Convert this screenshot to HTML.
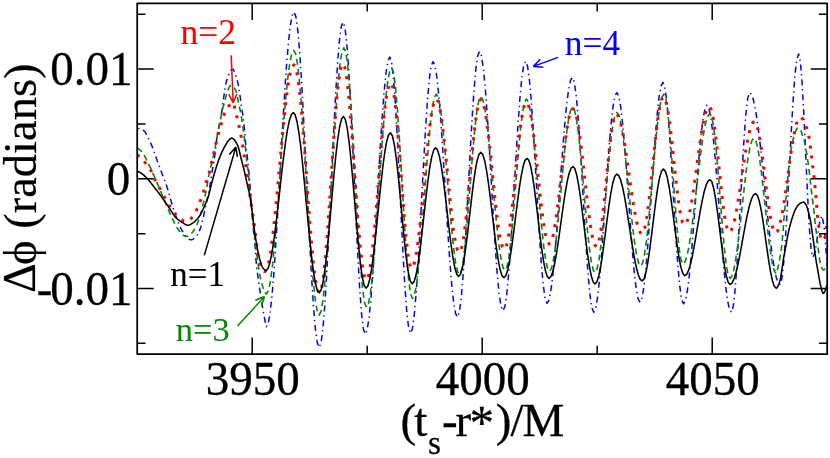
<!DOCTYPE html>
<html><head><meta charset="utf-8"><title>plot</title>
<style>
html,body{margin:0;padding:0;background:#fff;}
body{width:830px;height:458px;overflow:hidden;}
svg{display:block;will-change:transform;}
text{font-family:"Liberation Serif",serif;}
</style></head><body>
<svg width="830" height="458" viewBox="0 0 830 458">
<rect width="830" height="458" fill="#fff"/>
<defs><clipPath id="c"><rect x="137.20" y="3.35" width="690.00" height="350.65"/></clipPath></defs>

<g clip-path="url(#c)" fill="none" stroke-linejoin="round">
<path d="M137.20 128.20 L137.50 128.25 L138.00 128.35 L138.50 128.46 L139.00 128.59 L139.50 128.73 L140.00 128.89 L140.50 129.07 L141.00 129.26 L141.50 129.47 L142.00 129.70 L142.50 129.95 L143.00 130.21 L143.50 130.50 L144.00 130.86 L144.50 131.34 L145.00 131.93 L145.50 132.62 L146.00 133.41 L146.50 134.27 L147.00 135.20 L147.50 136.18 L148.00 137.22 L148.50 138.29 L149.00 139.39 L149.50 140.51 L150.00 141.64 L150.50 142.76 L151.00 143.86 L151.50 144.97 L152.00 146.13 L152.50 147.37 L153.00 148.66 L153.50 150.01 L154.00 151.39 L154.50 152.81 L155.00 154.26 L155.50 155.72 L156.00 157.19 L156.50 158.67 L157.00 160.13 L157.50 161.59 L158.00 163.01 L158.50 164.41 L159.00 165.77 L159.50 167.09 L160.00 168.39 L160.50 169.68 L161.00 170.95 L161.50 172.21 L162.00 173.47 L162.50 174.73 L163.00 175.99 L163.50 177.27 L164.00 178.56 L164.50 179.87 L165.00 181.20 L165.50 182.57 L166.00 183.97 L166.50 185.41 L167.00 186.90 L167.50 188.48 L168.00 190.12 L168.50 191.81 L169.00 193.55 L169.50 195.32 L170.00 197.11 L170.50 198.91 L171.00 200.71 L171.50 202.49 L172.00 204.25 L172.50 205.97 L173.00 207.64 L173.50 209.25 L174.00 210.79 L174.50 212.24 L175.00 213.62 L175.50 214.99 L176.00 216.36 L176.50 217.72 L177.00 219.07 L177.50 220.39 L178.00 221.69 L178.50 222.96 L179.00 224.18 L179.50 225.37 L180.00 226.51 L180.50 227.59 L181.00 228.62 L181.50 229.58 L182.00 230.46 L182.50 231.27 L183.00 232.00 L183.50 232.69 L184.00 233.38 L184.50 234.07 L185.00 234.76 L185.50 235.43 L186.00 236.07 L186.50 236.69 L187.00 237.27 L187.50 237.81 L188.00 238.29 L188.50 238.73 L189.00 239.09 L189.50 239.39 L190.00 239.61 L190.50 239.75 L191.00 239.80 L191.50 239.76 L192.00 239.63 L192.50 239.43 L193.00 239.15 L193.50 238.82 L194.00 238.44 L194.50 238.01 L195.00 237.55 L195.50 237.05 L196.00 236.54 L196.50 236.01 L197.00 235.42 L197.50 234.68 L198.00 233.80 L198.50 232.80 L199.00 231.69 L199.50 230.50 L200.00 229.24 L200.50 227.93 L201.00 226.44 L201.50 224.74 L202.00 222.88 L202.50 220.89 L203.00 218.82 L203.50 216.60 L204.00 214.12 L204.50 211.52 L205.00 208.95 L205.50 206.57 L206.00 204.33 L206.50 202.17 L207.00 200.01 L207.50 197.81 L208.00 195.50 L208.50 193.11 L209.00 190.66 L209.50 188.11 L210.00 185.42 L210.50 182.53 L211.00 179.34 L211.50 175.99 L212.00 172.66 L212.50 169.49 L213.00 166.57 L213.50 163.76 L214.00 160.87 L214.50 157.69 L215.00 153.92 L215.50 149.51 L216.00 144.94 L216.50 140.69 L217.00 137.20 L217.50 134.23 L218.00 131.52 L218.50 128.92 L219.00 126.38 L219.50 124.00 L220.00 121.63 L220.50 119.13 L221.00 116.42 L221.50 113.56 L222.00 110.50 L222.50 107.09 L223.00 103.19 L223.50 99.18 L224.00 95.50 L224.50 92.04 L225.00 88.59 L225.50 85.43 L226.00 82.85 L226.50 81.05 L227.00 79.47 L227.50 77.95 L228.00 76.50 L228.50 75.13 L229.00 73.87 L229.50 72.73 L230.00 71.72 L230.50 70.85 L231.00 70.14 L231.50 69.60 L232.00 69.25 L232.50 69.10 L233.00 69.25 L233.50 69.82 L234.00 70.73 L234.50 71.91 L235.00 73.27 L235.50 74.74 L236.00 76.23 L236.50 77.69 L237.00 79.34 L237.50 81.24 L238.00 83.39 L238.50 85.82 L239.00 88.73 L239.50 92.05 L240.00 95.60 L240.50 99.24 L241.00 103.33 L241.50 107.31 L242.00 110.38 L242.50 112.99 L243.00 116.00 L243.50 119.90 L244.00 124.50 L244.50 129.71 L245.00 136.12 L245.50 142.40 L246.00 147.16 L246.50 150.97 L247.00 154.61 L247.50 158.72 L248.00 163.26 L248.50 168.24 L249.00 173.58 L249.50 179.26 L250.00 185.26 L250.50 191.86 L251.00 198.72 L251.50 205.72 L252.00 212.76 L252.50 219.52 L253.00 225.70 L253.50 230.94 L254.00 235.11 L254.50 239.47 L255.00 245.53 L255.50 252.98 L256.00 260.01 L256.50 265.27 L257.00 269.69 L257.50 273.63 L258.00 277.28 L258.50 280.81 L259.00 284.31 L259.50 287.76 L260.00 291.15 L260.50 294.49 L261.00 297.76 L261.50 300.95 L262.00 304.06 L262.50 307.08 L263.00 310.00 L263.50 312.82 L264.00 315.52 L264.50 318.10 L265.00 320.56 L265.50 322.88 L266.00 325.06 L266.40 326.70 L268.24 323.26 L270.08 313.10 L271.92 296.65 L273.76 274.64 L275.60 248.03 L277.44 217.97 L279.28 185.80 L281.12 152.90 L282.96 120.73 L284.80 90.67 L286.64 64.06 L288.48 42.05 L290.32 25.60 L292.16 15.44 L294.00 12.00 L295.94 16.87 L297.88 31.21 L299.82 54.19 L301.75 84.46 L303.69 120.27 L305.63 159.53 L307.57 199.97 L309.51 239.23 L311.45 275.04 L313.38 305.31 L315.32 328.29 L317.26 342.63 L319.20 347.50 L321.04 342.77 L322.88 328.86 L324.72 306.58 L326.55 277.22 L328.39 242.49 L330.23 204.41 L332.07 165.19 L333.91 127.11 L335.75 92.38 L337.58 63.02 L339.42 40.74 L341.26 26.83 L343.10 22.10 L344.94 27.42 L346.78 43.01 L348.62 67.81 L350.47 100.13 L352.31 137.76 L354.15 178.15 L355.99 218.54 L357.83 256.17 L359.68 288.49 L361.52 313.29 L363.36 328.88 L365.20 334.20 L367.09 330.17 L368.98 318.32 L370.88 299.34 L372.77 274.33 L374.66 244.75 L376.55 212.31 L378.45 178.89 L380.34 146.45 L382.23 116.87 L384.12 91.86 L386.02 72.88 L387.91 61.03 L389.80 57.00 L391.68 62.60 L393.56 78.94 L395.45 104.70 L397.33 137.79 L399.21 175.53 L401.09 214.87 L402.97 252.61 L404.85 285.70 L406.74 311.46 L408.62 327.80 L410.50 333.40 L412.38 328.77 L414.25 315.19 L416.12 293.60 L418.00 265.45 L419.88 232.67 L421.75 197.50 L423.62 162.33 L425.50 129.55 L427.38 101.40 L429.25 79.81 L431.12 66.23 L433.00 61.60 L434.88 65.31 L436.75 76.23 L438.63 93.73 L440.51 116.78 L442.38 144.05 L444.26 173.95 L446.14 204.75 L448.02 234.65 L449.89 261.92 L451.77 284.97 L453.65 302.47 L455.52 313.39 L457.40 317.10 L459.24 312.57 L461.08 299.31 L462.92 278.20 L464.77 250.70 L466.61 218.67 L468.45 184.30 L470.29 149.93 L472.13 117.90 L473.98 90.40 L475.82 69.29 L477.66 56.03 L479.50 51.50 L481.46 55.92 L483.42 68.87 L485.38 89.47 L487.33 116.32 L489.29 147.59 L491.25 181.15 L493.21 214.71 L495.17 245.98 L497.12 272.83 L499.08 293.43 L501.04 306.38 L503.00 310.80 L504.88 306.55 L506.77 294.08 L508.65 274.25 L510.53 248.40 L512.42 218.30 L514.30 186.00 L516.18 153.70 L518.07 123.60 L519.95 97.75 L521.83 77.92 L523.72 65.45 L525.60 61.20 L527.55 66.10 L529.49 80.42 L531.44 102.98 L533.38 131.96 L535.33 165.02 L537.27 199.48 L539.22 232.54 L541.16 261.52 L543.11 284.08 L545.05 298.40 L547.00 303.30 L548.95 300.02 L550.91 290.36 L552.86 274.89 L554.82 254.51 L556.77 230.40 L558.72 203.96 L560.68 176.74 L562.63 150.30 L564.58 126.19 L566.54 105.81 L568.49 90.34 L570.45 80.68 L572.40 77.40 L574.34 82.16 L576.27 96.04 L578.21 117.94 L580.15 146.06 L582.08 178.14 L584.02 211.56 L585.95 243.64 L587.89 271.76 L589.83 293.66 L591.76 307.54 L593.70 312.30 L595.62 308.56 L597.55 297.58 L599.48 280.11 L601.40 257.35 L603.33 230.84 L605.25 202.40 L607.17 173.96 L609.10 147.45 L611.02 124.69 L612.95 107.22 L614.88 96.24 L616.80 92.50 L618.73 96.07 L620.67 106.55 L622.60 123.22 L624.53 144.95 L626.47 170.25 L628.40 197.40 L630.33 224.55 L632.27 249.85 L634.20 271.58 L636.13 288.25 L638.07 298.73 L640.00 302.30 L641.91 298.55 L643.82 287.57 L645.73 270.10 L647.63 247.33 L649.54 220.81 L651.45 192.35 L653.36 163.89 L655.27 137.38 L657.17 114.60 L659.08 97.13 L660.99 86.15 L662.90 82.40 L664.77 86.88 L666.65 99.97 L668.52 120.61 L670.39 147.11 L672.26 177.35 L674.14 208.85 L676.01 239.09 L677.88 265.59 L679.75 286.23 L681.63 299.32 L683.50 303.80 L685.46 300.42 L687.42 290.50 L689.38 274.73 L691.33 254.17 L693.29 230.24 L695.25 204.55 L697.21 178.86 L699.17 154.93 L701.12 134.37 L703.08 118.60 L705.04 108.68 L707.00 105.30 L708.87 108.31 L710.74 117.16 L712.61 131.33 L714.48 150.01 L716.35 172.10 L718.22 196.32 L720.08 221.28 L721.95 245.50 L723.82 267.59 L725.69 286.27 L727.56 300.44 L729.43 309.29 L731.30 312.30 L733.13 306.92 L734.96 291.31 L736.79 267.00 L738.62 236.36 L740.45 202.40 L742.28 168.44 L744.11 137.80 L745.94 113.49 L747.77 97.88 L749.60 92.50 L751.50 94.34 L753.40 99.81 L755.30 108.68 L757.20 120.62 L759.10 135.17 L761.00 151.76 L762.90 169.77 L764.80 188.50 L766.70 207.23 L768.60 225.24 L770.50 241.83 L772.40 256.38 L774.30 268.32 L776.20 277.19 L778.10 282.66 L780.00 284.50 L781.86 278.86 L783.72 262.49 L785.58 236.99 L787.44 204.86 L789.30 169.25 L791.16 133.64 L793.02 101.51 L794.88 76.01 L796.74 59.64 L798.60 54.00 L800.39 61.73 L802.17 83.76 L803.96 116.72 L805.75 155.60 L807.54 194.48 L809.33 227.44 L811.11 249.47 L812.90 257.20 L814.72 253.25 L816.54 242.90 L818.36 230.10 L820.18 219.75 L822.00 215.80 L824.12 226.67 L826.25 252.90 L827.20 264.63" stroke="#0000ff" stroke-width="1.5" stroke-dasharray="6 3.75 1.4 3.75" stroke-dashoffset="8.9"/>
<path d="M137.20 148.00 L137.50 148.24 L138.00 148.61 L138.50 148.97 L139.00 149.32 L139.50 149.68 L140.00 150.05 L140.50 150.46 L141.00 150.90 L141.50 151.39 L142.00 151.95 L142.50 152.59 L143.00 153.30 L143.50 154.08 L144.00 154.92 L144.50 155.80 L145.00 156.73 L145.50 157.70 L146.00 158.69 L146.50 159.71 L147.00 160.75 L147.50 161.79 L148.00 162.83 L148.50 163.87 L149.00 164.89 L149.50 165.90 L150.00 166.93 L150.50 167.97 L151.00 169.04 L151.50 170.12 L152.00 171.22 L152.50 172.34 L153.00 173.47 L153.50 174.60 L154.00 175.75 L154.50 176.91 L155.00 178.07 L155.50 179.23 L156.00 180.39 L156.50 181.56 L157.00 182.72 L157.50 183.88 L158.00 185.03 L158.50 186.19 L159.00 187.36 L159.50 188.55 L160.00 189.74 L160.50 190.95 L161.00 192.16 L161.50 193.37 L162.00 194.59 L162.50 195.82 L163.00 197.04 L163.50 198.26 L164.00 199.48 L164.50 200.70 L165.00 201.91 L165.50 203.11 L166.00 204.30 L166.50 205.48 L167.00 206.65 L167.50 207.81 L168.00 208.95 L168.50 210.08 L169.00 211.19 L169.50 212.27 L170.00 213.34 L170.50 214.43 L171.00 215.53 L171.50 216.64 L172.00 217.74 L172.50 218.84 L173.00 219.94 L173.50 221.01 L174.00 222.06 L174.50 223.09 L175.00 224.08 L175.50 225.03 L176.00 225.94 L176.50 226.79 L177.00 227.59 L177.50 228.33 L178.00 229.00 L178.50 229.64 L179.00 230.29 L179.50 230.95 L180.00 231.60 L180.50 232.24 L181.00 232.86 L181.50 233.45 L182.00 234.02 L182.50 234.54 L183.00 235.02 L183.50 235.44 L184.00 235.80 L184.50 236.10 L185.00 236.32 L185.50 236.45 L186.00 236.50 L186.50 236.46 L187.00 236.35 L187.50 236.17 L188.00 235.93 L188.50 235.64 L189.00 235.32 L189.50 234.96 L190.00 234.58 L190.50 234.18 L191.00 233.78 L191.50 233.34 L192.00 232.81 L192.50 232.19 L193.00 231.49 L193.50 230.74 L194.00 229.95 L194.50 229.13 L195.00 228.27 L195.50 227.35 L196.00 226.37 L196.50 225.33 L197.00 224.24 L197.50 223.08 L198.00 221.86 L198.50 220.58 L199.00 219.23 L199.50 217.82 L200.00 216.25 L200.50 214.52 L201.00 212.67 L201.50 210.72 L202.00 208.70 L202.50 206.66 L203.00 204.61 L203.50 202.56 L204.00 200.48 L204.50 198.35 L205.00 196.15 L205.50 193.87 L206.00 191.49 L206.50 188.98 L207.00 186.18 L207.50 183.14 L208.00 180.07 L208.50 177.17 L209.00 174.62 L209.50 172.33 L210.00 170.19 L210.50 168.11 L211.00 166.00 L211.50 163.81 L212.00 161.57 L212.50 159.32 L213.00 157.06 L213.50 154.80 L214.00 152.61 L214.50 150.45 L215.00 148.19 L215.50 145.66 L216.00 142.65 L216.50 139.48 L217.00 136.60 L217.50 133.95 L218.00 131.41 L218.50 128.90 L219.00 126.40 L219.50 123.93 L220.00 121.50 L220.50 119.08 L221.00 116.64 L221.50 114.14 L222.00 111.70 L222.50 109.43 L223.00 107.44 L223.50 105.73 L224.00 104.15 L224.50 102.54 L225.00 100.74 L225.50 98.64 L226.00 96.42 L226.50 94.35 L227.00 92.67 L227.50 91.37 L228.00 90.09 L228.50 88.87 L229.00 87.76 L229.50 86.80 L230.00 86.06 L230.50 85.57 L231.00 85.40 L231.50 85.47 L232.00 85.66 L232.50 85.98 L233.00 86.41 L233.50 86.95 L234.00 87.58 L234.50 88.30 L235.00 89.09 L235.50 89.97 L236.00 90.90 L236.50 92.40 L237.00 94.71 L237.50 97.45 L238.00 100.26 L238.50 102.76 L239.00 105.01 L239.50 107.22 L240.00 109.51 L240.50 112.00 L241.00 114.76 L241.50 117.74 L242.00 120.89 L242.50 124.16 L243.00 127.59 L243.50 131.25 L244.00 135.24 L244.50 139.60 L245.00 144.16 L245.50 148.86 L246.00 153.85 L246.50 158.73 L247.00 163.00 L247.50 166.54 L248.00 170.06 L248.50 174.39 L249.00 180.45 L249.50 186.50 L250.00 191.25 L250.50 195.90 L251.00 200.76 L251.50 205.71 L252.00 210.72 L252.50 215.75 L253.00 220.77 L253.50 225.73 L254.00 230.59 L254.50 235.32 L255.00 239.88 L255.50 244.23 L256.00 248.35 L256.50 252.28 L257.00 256.04 L257.50 259.60 L258.00 262.96 L258.50 266.30 L259.00 269.61 L259.50 272.80 L260.00 275.75 L260.50 278.36 L261.00 280.53 L261.50 282.33 L262.00 284.08 L262.50 285.77 L263.00 287.38 L263.50 288.87 L264.00 290.23 L264.50 291.42 L265.00 292.42 L265.50 293.21 L266.00 293.75 L266.40 294.00 L268.36 290.94 L270.31 281.93 L272.27 267.42 L274.23 248.12 L276.19 225.02 L278.14 199.26 L280.10 172.15 L282.06 145.04 L284.01 119.28 L285.97 96.18 L287.93 76.88 L289.89 62.37 L291.84 53.36 L293.80 50.30 L295.75 54.15 L297.71 65.47 L299.66 83.61 L301.62 107.51 L303.57 135.78 L305.52 166.78 L307.48 198.72 L309.43 229.72 L311.38 257.99 L313.34 281.89 L315.29 300.03 L317.25 311.35 L319.20 315.20 L321.10 311.31 L323.00 299.88 L324.90 281.56 L326.80 257.43 L328.70 228.88 L330.60 197.57 L332.50 165.33 L334.40 134.02 L336.30 105.47 L338.20 81.34 L340.10 63.02 L342.00 51.59 L343.90 47.70 L345.78 52.12 L347.67 65.09 L349.55 85.72 L351.43 112.60 L353.32 143.91 L355.20 177.50 L357.08 211.09 L358.97 242.40 L360.85 269.28 L362.73 289.91 L364.62 302.88 L366.50 307.30 L368.43 303.82 L370.36 293.58 L372.29 277.18 L374.22 255.58 L376.15 230.01 L378.08 201.98 L380.02 173.12 L381.95 145.09 L383.88 119.52 L385.81 97.92 L387.74 81.52 L389.67 71.28 L391.60 67.80 L393.50 72.47 L395.40 86.11 L397.30 107.61 L399.20 135.23 L401.10 166.73 L403.00 199.57 L404.90 231.07 L406.80 258.69 L408.70 280.19 L410.60 293.83 L412.50 298.50 L414.33 295.53 L416.16 286.80 L417.99 272.81 L419.82 254.38 L421.65 232.57 L423.48 208.66 L425.32 184.04 L427.15 160.13 L428.98 138.32 L430.81 119.89 L432.64 105.90 L434.47 97.17 L436.30 94.20 L438.23 97.27 L440.15 106.28 L442.07 120.60 L444.00 139.27 L445.93 161.02 L447.85 184.35 L449.77 207.68 L451.70 229.42 L453.62 248.10 L455.55 262.42 L457.47 271.43 L459.40 274.50 L461.35 270.90 L463.29 260.39 L465.24 243.82 L467.18 222.53 L469.13 198.25 L471.07 172.95 L473.02 148.67 L474.96 127.38 L476.91 110.81 L478.85 100.30 L480.80 96.70 L482.66 99.23 L484.52 106.65 L486.38 118.55 L488.25 134.24 L490.11 152.78 L491.97 173.13 L493.83 194.07 L495.69 214.42 L497.55 232.96 L499.42 248.65 L501.28 260.55 L503.14 267.97 L505.00 270.50 L506.95 267.03 L508.89 256.89 L510.84 240.90 L512.78 220.37 L514.73 196.95 L516.67 172.55 L518.62 149.13 L520.56 128.60 L522.51 112.61 L524.45 102.47 L526.40 99.00 L528.32 101.94 L530.25 110.55 L532.17 124.25 L534.10 142.10 L536.02 162.89 L537.95 185.20 L539.88 207.51 L541.80 228.30 L543.73 246.15 L545.65 259.85 L547.58 268.46 L549.50 271.40 L551.42 268.60 L553.35 260.41 L555.27 247.37 L557.20 230.37 L559.12 210.59 L561.05 189.35 L562.98 168.11 L564.90 148.33 L566.83 131.33 L568.75 118.29 L570.68 110.10 L572.60 107.30 L574.47 110.12 L576.33 118.37 L578.20 131.51 L580.07 148.63 L581.93 168.56 L583.80 189.95 L585.67 211.34 L587.53 231.27 L589.40 248.39 L591.27 261.53 L593.13 269.78 L595.00 272.60 L596.98 269.36 L598.96 259.90 L600.95 244.99 L602.93 225.83 L604.91 203.99 L606.89 181.21 L608.87 159.37 L610.85 140.21 L612.84 125.30 L614.82 115.84 L616.80 112.60 L618.64 114.83 L620.48 121.39 L622.32 131.89 L624.15 145.73 L625.99 162.10 L627.83 180.05 L629.67 198.55 L631.51 216.50 L633.35 232.87 L635.18 246.71 L637.02 257.21 L638.86 263.77 L640.70 266.00 L642.62 263.07 L644.55 254.49 L646.48 240.84 L648.40 223.05 L650.33 202.33 L652.25 180.10 L654.17 157.87 L656.10 137.15 L658.02 119.36 L659.95 105.71 L661.88 97.13 L663.80 94.20 L665.71 98.36 L667.62 110.43 L669.53 129.24 L671.44 152.93 L673.35 179.20 L675.26 205.47 L677.17 229.16 L679.08 247.97 L680.99 260.04 L682.90 264.20 L684.84 262.31 L686.77 256.75 L688.71 247.79 L690.64 235.89 L692.58 221.63 L694.51 205.73 L696.45 189.00 L698.39 172.27 L700.32 156.37 L702.26 142.11 L704.19 130.21 L706.13 121.25 L708.06 115.69 L710.00 113.80 L711.82 117.13 L713.64 126.86 L715.45 142.20 L717.27 161.91 L719.09 184.39 L720.91 207.81 L722.73 230.29 L724.55 250.00 L726.36 265.34 L728.18 275.07 L730.00 278.40 L731.84 276.36 L733.68 270.37 L735.52 260.77 L737.35 248.12 L739.19 233.16 L741.03 216.75 L742.87 199.85 L744.71 183.44 L746.55 168.48 L748.38 155.83 L750.22 146.23 L752.06 140.24 L753.90 138.20 L755.77 140.51 L757.63 147.28 L759.50 158.04 L761.37 172.08 L763.23 188.42 L765.10 205.95 L766.97 223.48 L768.83 239.82 L770.70 253.86 L772.57 264.62 L774.43 271.39 L776.30 273.70 L776.80 272.16 L777.30 270.35 L777.80 268.31 L778.30 266.08 L778.80 263.66 L779.30 261.11 L779.80 258.44 L780.30 255.67 L780.80 252.57 L781.30 249.04 L781.80 245.00 L782.30 240.16 L782.80 234.64 L783.30 228.16 L783.80 220.84 L784.30 214.45 L784.80 209.57 L785.30 204.82 L785.80 199.96 L786.30 195.00 L786.80 189.67 L787.30 184.04 L787.80 178.36 L788.30 172.88 L788.80 167.84 L789.30 163.36 L789.80 159.10 L790.30 155.09 L790.80 151.42 L791.30 148.17 L791.80 145.40 L792.30 143.02 L792.80 140.88 L793.30 138.80 L793.80 136.63 L794.30 134.69 L794.80 133.32 L795.30 132.04 L795.80 130.83 L796.30 129.76 L796.80 128.88 L797.30 128.25 L797.80 127.93 L798.30 127.93 L798.80 128.13 L799.30 128.48 L799.80 128.96 L800.30 129.54 L800.80 130.20 L801.30 131.39 L801.80 133.16 L802.30 134.90 L802.80 136.32 L803.30 137.70 L803.80 139.25 L804.30 141.12 L804.80 143.24 L805.30 145.59 L805.80 148.15 L806.30 150.87 L806.80 153.78 L807.30 157.00 L807.80 160.50 L808.30 164.21 L808.80 168.06 L809.30 172.00 L809.80 176.20 L810.30 180.73 L810.80 185.38 L811.30 189.94 L811.80 194.20 L812.30 197.93 L812.80 201.31 L813.30 204.98 L813.80 209.55 L814.30 214.71 L814.80 219.62 L815.30 224.38 L815.80 228.59 L816.30 232.16 L816.80 235.73 L817.30 239.92 L817.80 244.64 L818.30 249.21 L818.80 253.74 L819.30 257.45 L819.80 260.59 L820.30 263.34 L820.80 265.42 L821.30 266.74 L821.80 267.89 L822.30 268.87 L822.80 269.59 L823.30 269.96 L823.80 269.94 L824.30 269.59 L824.80 268.99 L825.30 268.23 L825.80 267.36 L826.30 266.39 L826.80 265.10 L827.20 263.79" stroke="#008b00" stroke-width="1.6" stroke-dasharray="6 3.9"/>
<path d="M137.20 154.50 L137.50 154.80 L138.00 155.29 L138.50 155.78 L139.00 156.27 L139.50 156.76 L140.00 157.26 L140.50 157.76 L141.00 158.26 L141.50 158.77 L142.00 159.28 L142.50 159.80 L143.00 160.33 L143.50 160.87 L144.00 161.42 L144.50 161.98 L145.00 162.55 L145.50 163.13 L146.00 163.73 L146.50 164.35 L147.00 164.98 L147.50 165.62 L148.00 166.29 L148.50 166.97 L149.00 167.68 L149.50 168.41 L150.00 169.15 L150.50 169.93 L151.00 170.73 L151.50 171.64 L152.00 172.66 L152.50 173.77 L153.00 174.92 L153.50 176.11 L154.00 177.31 L154.50 178.49 L155.00 179.63 L155.50 180.70 L156.00 181.68 L156.50 182.61 L157.00 183.51 L157.50 184.38 L158.00 185.23 L158.50 186.08 L159.00 186.94 L159.50 187.82 L160.00 188.72 L160.50 189.65 L161.00 190.58 L161.50 191.53 L162.00 192.48 L162.50 193.44 L163.00 194.41 L163.50 195.37 L164.00 196.33 L164.50 197.29 L165.00 198.23 L165.50 199.17 L166.00 200.08 L166.50 200.99 L167.00 201.87 L167.50 202.72 L168.00 203.56 L168.50 204.36 L169.00 205.15 L169.50 205.93 L170.00 206.70 L170.50 207.47 L171.00 208.22 L171.50 208.96 L172.00 209.68 L172.50 210.38 L173.00 211.06 L173.50 211.72 L174.00 212.36 L174.50 212.98 L175.00 213.56 L175.50 214.12 L176.00 214.68 L176.50 215.25 L177.00 215.81 L177.50 216.37 L178.00 216.91 L178.50 217.44 L179.00 217.94 L179.50 218.42 L180.00 218.86 L180.50 219.26 L181.00 219.62 L181.50 219.93 L182.00 220.18 L182.50 220.37 L183.00 220.56 L183.50 220.73 L184.00 220.90 L184.50 221.04 L185.00 221.17 L185.50 221.28 L186.00 221.35 L186.50 221.39 L187.00 221.39 L187.50 221.28 L188.00 221.07 L188.50 220.78 L189.00 220.41 L189.50 220.00 L190.00 219.54 L190.50 219.07 L191.00 218.59 L191.50 218.11 L192.00 217.55 L192.50 216.93 L193.00 216.24 L193.50 215.50 L194.00 214.71 L194.50 213.87 L195.00 212.99 L195.50 212.08 L196.00 211.15 L196.50 210.19 L197.00 209.19 L197.50 208.10 L198.00 206.93 L198.50 205.69 L199.00 204.40 L199.50 203.09 L200.00 201.76 L200.50 200.44 L201.00 199.11 L201.50 197.75 L202.00 196.37 L202.50 194.94 L203.00 193.47 L203.50 191.93 L204.00 190.31 L204.50 188.55 L205.00 186.70 L205.50 184.82 L206.00 182.99 L206.50 181.27 L207.00 179.67 L207.50 178.16 L208.00 176.67 L208.50 175.15 L209.00 173.52 L209.50 171.72 L210.00 169.68 L210.50 167.45 L211.00 165.16 L211.50 162.93 L212.00 160.83 L212.50 158.79 L213.00 156.77 L213.50 154.72 L214.00 152.60 L214.50 150.37 L215.00 148.06 L215.50 145.74 L216.00 143.47 L216.50 141.31 L217.00 139.18 L217.50 137.09 L218.00 135.08 L218.50 133.17 L219.00 131.38 L219.50 129.69 L220.00 128.07 L220.50 126.48 L221.00 124.91 L221.50 123.30 L222.00 121.61 L222.50 119.84 L223.00 118.08 L223.50 116.41 L224.00 114.92 L224.50 113.67 L225.00 112.56 L225.50 111.50 L226.00 110.51 L226.50 109.57 L227.00 108.69 L227.50 107.86 L228.00 107.10 L228.50 106.41 L229.00 105.77 L229.50 105.20 L230.00 104.64 L230.50 104.08 L231.00 103.55 L231.50 103.09 L232.00 102.74 L232.50 102.54 L233.00 102.58 L233.50 103.43 L234.00 104.97 L234.50 106.96 L235.00 109.14 L235.50 111.24 L236.00 113.12 L236.50 115.06 L237.00 117.09 L237.50 119.20 L238.00 121.36 L238.50 123.59 L239.00 125.90 L239.50 128.28 L240.00 130.72 L240.50 133.16 L241.00 135.59 L241.50 138.12 L242.00 140.90 L242.50 144.22 L243.00 148.02 L243.50 151.60 L244.00 154.56 L244.50 157.28 L245.00 160.14 L245.50 163.50 L246.00 167.37 L246.50 171.20 L247.00 174.75 L247.50 178.21 L248.00 181.70 L248.50 185.23 L249.00 188.77 L249.50 192.32 L250.00 195.81 L250.50 199.26 L251.00 202.67 L251.50 206.06 L252.00 209.46 L252.50 212.87 L253.00 216.33 L253.50 219.83 L254.00 223.41 L254.50 227.09 L255.00 230.87 L255.50 234.78 L256.00 238.83 L256.50 243.32 L257.00 248.36 L257.50 252.09 L258.00 254.95 L258.50 257.39 L259.00 259.52 L259.50 261.48 L260.00 263.44 L260.50 265.35 L261.00 267.10 L261.50 268.57 L262.00 269.67 L262.50 270.29 L263.00 270.70 L263.50 271.06 L264.00 271.32 L264.50 271.47 L264.80 271.50 L266.75 269.24 L268.69 262.56 L270.64 251.76 L272.59 237.30 L274.53 219.82 L276.48 200.09 L278.43 178.95 L280.37 157.35 L282.32 136.21 L284.27 116.48 L286.21 99.00 L288.16 84.54 L290.11 73.74 L292.05 67.06 L294.00 64.80 L295.95 68.12 L297.91 77.89 L299.86 93.53 L301.82 114.15 L303.77 138.54 L305.72 165.28 L307.68 192.82 L309.63 219.56 L311.58 243.95 L313.54 264.57 L315.49 280.21 L317.45 289.98 L319.40 293.30 L321.35 289.38 L323.30 277.91 L325.25 259.65 L327.20 235.85 L329.15 208.14 L331.10 178.40 L333.05 148.66 L335.00 120.95 L336.95 97.15 L338.90 78.89 L340.85 67.42 L342.80 63.50 L344.76 67.19 L346.72 78.00 L348.68 95.21 L350.63 117.62 L352.59 143.73 L354.55 171.75 L356.51 199.77 L358.47 225.88 L360.43 248.29 L362.38 265.50 L364.34 276.31 L366.30 280.00 L368.17 277.13 L370.04 268.70 L371.91 255.19 L373.78 237.39 L375.65 216.33 L377.52 193.24 L379.38 169.46 L381.25 146.37 L383.12 125.31 L384.99 107.51 L386.86 94.00 L388.73 85.57 L390.60 82.70 L392.52 86.46 L394.44 97.44 L396.35 114.75 L398.27 136.98 L400.19 162.34 L402.11 188.76 L404.03 214.12 L405.95 236.35 L407.86 253.66 L409.78 264.64 L411.70 268.40 L413.58 265.94 L415.47 258.69 L417.35 247.07 L419.24 231.77 L421.12 213.67 L423.01 193.82 L424.89 173.38 L426.78 153.53 L428.66 135.43 L430.55 120.13 L432.43 108.51 L434.32 101.26 L436.20 98.80 L438.12 101.42 L440.05 109.10 L441.98 121.31 L443.90 137.22 L445.82 155.76 L447.75 175.65 L449.68 195.54 L451.60 214.08 L453.52 229.99 L455.45 242.20 L457.38 249.88 L459.30 252.50 L461.25 249.40 L463.21 240.33 L465.16 226.05 L467.12 207.69 L469.07 186.76 L471.03 164.94 L472.98 144.01 L474.94 125.65 L476.89 111.37 L478.85 102.30 L480.80 99.20 L482.76 101.76 L484.72 109.27 L486.68 121.21 L488.63 136.77 L490.59 154.90 L492.55 174.35 L494.51 193.80 L496.47 211.93 L498.43 227.49 L500.38 239.43 L502.34 246.94 L504.30 249.50 L506.14 246.99 L507.98 239.63 L509.82 227.93 L511.67 212.67 L513.51 194.91 L515.35 175.85 L517.19 156.79 L519.03 139.03 L520.88 123.77 L522.72 112.07 L524.56 104.71 L526.40 102.20 L528.31 104.62 L530.22 111.70 L532.12 122.97 L534.03 137.65 L535.94 154.75 L537.85 173.10 L539.76 191.45 L541.67 208.55 L543.57 223.23 L545.48 234.50 L547.39 241.58 L549.30 244.00 L551.27 241.69 L553.23 234.93 L555.20 224.17 L557.17 210.15 L559.13 193.82 L561.10 176.30 L563.07 158.78 L565.03 142.45 L567.00 128.43 L568.97 117.67 L570.93 110.91 L572.90 108.60 L574.87 110.95 L576.83 117.86 L578.80 128.84 L580.77 143.15 L582.73 159.82 L584.70 177.70 L586.67 195.58 L588.63 212.25 L590.60 226.56 L592.57 237.54 L594.53 244.45 L596.50 246.80 L598.45 243.55 L600.40 234.10 L602.35 219.39 L604.30 200.85 L606.25 180.30 L608.20 159.75 L610.15 141.21 L612.10 126.50 L614.05 117.05 L616.00 113.80 L617.86 115.31 L619.71 119.75 L621.57 126.91 L623.43 136.43 L625.29 147.82 L627.14 160.53 L629.00 173.90 L630.86 187.27 L632.71 199.98 L634.57 211.37 L636.43 220.89 L638.29 228.05 L640.14 232.49 L642.00 234.00 L643.95 231.22 L645.91 223.11 L647.86 210.32 L649.82 193.90 L651.77 175.16 L653.73 155.64 L655.68 136.90 L657.64 120.48 L659.59 107.69 L661.55 99.58 L663.50 96.80 L665.40 99.40 L667.30 106.98 L669.20 118.92 L671.10 134.27 L673.00 151.78 L674.90 170.02 L676.80 187.53 L678.70 202.88 L680.60 214.82 L682.50 222.40 L684.40 225.00 L686.32 223.28 L688.23 218.21 L690.15 210.10 L692.06 199.41 L693.98 186.76 L695.89 172.89 L697.81 158.61 L699.72 144.74 L701.64 132.09 L703.55 121.40 L705.47 113.29 L707.38 108.22 L709.30 106.50 L711.29 109.58 L713.28 118.51 L715.27 132.43 L717.26 149.96 L719.25 169.40 L721.24 188.84 L723.23 206.37 L725.22 220.29 L727.21 229.22 L729.20 232.30 L731.14 230.69 L733.08 225.95 L735.02 218.35 L736.95 208.35 L738.89 196.51 L740.83 183.53 L742.77 170.17 L744.71 157.19 L746.65 145.35 L748.58 135.35 L750.52 127.75 L752.46 123.01 L754.40 121.40 L756.33 123.66 L758.25 130.26 L760.18 140.66 L762.11 154.02 L764.04 169.26 L765.96 185.14 L767.89 200.38 L769.82 213.74 L771.75 224.14 L773.67 230.74 L775.60 233.00 L777.50 231.31 L779.40 226.36 L781.30 218.41 L783.20 207.95 L785.10 195.57 L787.00 181.99 L788.90 168.01 L790.80 154.43 L792.70 142.05 L794.60 131.59 L796.50 123.64 L798.40 118.69 L800.30 117.00 L800.80 117.20 L801.30 117.54 L801.80 118.00 L802.30 118.56 L802.80 119.19 L803.30 119.86 L803.80 120.63 L804.30 121.60 L804.80 122.76 L805.30 124.06 L805.80 125.48 L806.30 126.97 L806.80 128.51 L807.30 130.15 L807.80 131.94 L808.30 133.94 L808.80 136.19 L809.30 138.75 L809.80 142.08 L810.30 145.94 L810.80 149.88 L811.30 154.03 L811.80 158.26 L812.30 162.39 L812.80 166.53 L813.30 170.88 L813.80 175.49 L814.30 180.10 L814.80 184.50 L815.30 189.20 L815.80 194.72 L816.30 200.72 L816.80 207.12 L817.30 213.81 L817.80 219.38 L818.30 223.05 L818.80 226.12 L819.30 229.38 L819.80 233.11 L820.30 236.31 L820.80 238.03 L821.30 239.23 L821.80 240.16 L822.30 240.70 L822.80 240.77 L823.30 240.49 L823.80 239.95 L824.30 239.21 L824.80 238.22 L825.30 236.09 L825.80 233.06 L826.30 229.67 L826.80 226.08 L827.20 222.68" stroke="#ff0000" stroke-width="3.0" stroke-dasharray="3.0 6.95"/>
<path d="M137.20 171.20 L137.50 171.30 L138.00 171.49 L138.50 171.70 L139.00 171.93 L139.50 172.18 L140.00 172.44 L140.50 172.72 L141.00 173.02 L141.50 173.36 L142.00 173.73 L142.50 174.14 L143.00 174.56 L143.50 175.00 L144.00 175.45 L144.50 175.90 L145.00 176.36 L145.50 176.83 L146.00 177.31 L146.50 177.81 L147.00 178.32 L147.50 178.85 L148.00 179.39 L148.50 179.95 L149.00 180.53 L149.50 181.13 L150.00 181.75 L150.50 182.38 L151.00 183.01 L151.50 183.65 L152.00 184.28 L152.50 184.93 L153.00 185.58 L153.50 186.24 L154.00 186.90 L154.50 187.56 L155.00 188.21 L155.50 188.86 L156.00 189.50 L156.50 190.13 L157.00 190.76 L157.50 191.39 L158.00 192.03 L158.50 192.67 L159.00 193.33 L159.50 194.00 L160.00 194.68 L160.50 195.37 L161.00 196.06 L161.50 196.76 L162.00 197.46 L162.50 198.16 L163.00 198.86 L163.50 199.57 L164.00 200.27 L164.50 200.98 L165.00 201.70 L165.50 202.42 L166.00 203.15 L166.50 203.88 L167.00 204.61 L167.50 205.35 L168.00 206.10 L168.50 206.84 L169.00 207.59 L169.50 208.34 L170.00 209.10 L170.50 209.85 L171.00 210.60 L171.50 211.38 L172.00 212.19 L172.50 213.02 L173.00 213.84 L173.50 214.65 L174.00 215.42 L174.50 216.13 L175.00 216.76 L175.50 217.31 L176.00 217.81 L176.50 218.29 L177.00 218.75 L177.50 219.18 L178.00 219.59 L178.50 219.98 L179.00 220.36 L179.50 220.72 L180.00 221.06 L180.50 221.39 L181.00 221.71 L181.50 222.02 L182.00 222.32 L182.50 222.64 L183.00 222.96 L183.50 223.29 L184.00 223.61 L184.50 223.93 L185.00 224.22 L185.50 224.49 L186.00 224.73 L186.50 224.92 L187.00 225.07 L187.50 225.17 L188.00 225.20 L188.50 225.16 L189.00 225.05 L189.50 224.88 L190.00 224.66 L190.50 224.40 L191.00 224.11 L191.50 223.81 L192.00 223.50 L192.50 223.20 L193.00 222.88 L193.50 222.52 L194.00 222.12 L194.50 221.68 L195.00 221.22 L195.50 220.73 L196.00 220.22 L196.50 219.71 L197.00 219.17 L197.50 218.60 L198.00 217.99 L198.50 217.35 L199.00 216.67 L199.50 215.96 L200.00 215.20 L200.50 214.38 L201.00 213.49 L201.50 212.54 L202.00 211.55 L202.50 210.52 L203.00 209.46 L203.50 208.40 L204.00 207.31 L204.50 206.19 L205.00 205.02 L205.50 203.82 L206.00 202.60 L206.50 201.38 L207.00 200.15 L207.50 198.87 L208.00 197.51 L208.50 196.00 L209.00 194.26 L209.50 192.28 L210.00 190.14 L210.50 187.93 L211.00 185.74 L211.50 183.66 L212.00 181.76 L212.50 179.96 L213.00 178.21 L213.50 176.51 L214.00 174.83 L214.50 173.17 L215.00 171.50 L215.50 169.82 L216.00 168.13 L216.50 166.48 L217.00 164.90 L217.50 163.42 L218.00 161.97 L218.50 160.57 L219.00 159.20 L219.50 157.87 L220.00 156.58 L220.50 155.34 L221.00 154.14 L221.50 153.00 L222.00 151.90 L222.50 150.85 L223.00 149.82 L223.50 148.84 L224.00 147.88 L224.50 146.96 L225.00 146.07 L225.50 145.20 L226.00 144.34 L226.50 143.48 L227.00 142.65 L227.50 141.87 L228.00 141.18 L228.50 140.60 L229.00 140.07 L229.50 139.53 L230.00 139.03 L230.50 138.60 L231.00 138.28 L231.50 138.12 L232.00 138.13 L232.50 138.28 L233.00 138.56 L233.50 138.96 L234.00 139.46 L234.50 140.06 L235.00 140.74 L235.50 141.50 L236.00 142.31 L236.50 143.17 L237.00 144.07 L237.50 145.00 L238.00 146.16 L238.50 147.70 L239.00 149.54 L239.50 151.58 L240.00 153.73 L240.50 155.90 L241.00 158.01 L241.50 159.97 L242.00 161.90 L242.50 163.83 L243.00 165.79 L243.50 167.77 L244.00 169.80 L244.50 171.88 L245.00 174.03 L245.50 176.27 L246.00 178.56 L246.50 180.87 L247.00 183.16 L247.50 185.37 L248.00 187.45 L248.50 189.50 L249.00 191.66 L249.50 194.10 L250.00 196.96 L250.50 200.20 L251.00 203.62 L251.50 207.12 L252.00 210.85 L252.50 214.76 L253.00 218.76 L253.50 222.79 L254.00 226.75 L254.50 230.56 L255.00 234.15 L255.50 237.47 L256.00 240.66 L256.50 243.68 L257.00 246.51 L257.50 249.12 L258.00 251.62 L258.50 254.00 L259.00 256.23 L259.50 258.28 L260.00 260.10 L260.50 261.80 L261.00 263.45 L261.50 264.97 L262.00 266.30 L262.50 267.34 L263.00 268.06 L263.50 268.69 L264.00 269.27 L264.50 269.76 L265.00 270.15 L265.50 270.41 L266.00 270.50 L267.95 268.52 L269.90 262.68 L271.85 253.28 L273.80 240.77 L275.75 225.81 L277.70 209.12 L279.65 191.55 L281.60 173.98 L283.55 157.29 L285.50 142.33 L287.45 129.82 L289.40 120.42 L291.35 114.58 L293.30 112.60 L295.15 114.86 L297.00 121.52 L298.85 132.25 L300.70 146.50 L302.55 163.58 L304.40 182.61 L306.25 202.65 L308.10 222.69 L309.95 241.72 L311.80 258.80 L313.65 273.05 L315.50 283.78 L317.35 290.44 L319.20 292.70 L321.06 290.14 L322.92 282.60 L324.78 270.53 L326.65 254.62 L328.51 235.81 L330.37 215.18 L332.23 193.92 L334.09 173.29 L335.95 154.48 L337.82 138.57 L339.68 126.50 L341.54 118.96 L343.40 116.40 L345.28 119.33 L347.17 127.91 L349.05 141.56 L350.93 159.35 L352.82 180.07 L354.70 202.30 L356.58 224.53 L358.47 245.25 L360.35 263.04 L362.23 276.69 L364.12 285.27 L366.00 288.20 L367.88 285.94 L369.75 279.29 L371.63 268.65 L373.51 254.62 L375.38 238.02 L377.26 219.82 L379.14 201.08 L381.02 182.88 L382.89 166.28 L384.77 152.25 L386.65 141.61 L388.52 134.96 L390.40 132.70 L392.38 135.76 L394.36 144.70 L396.35 158.79 L398.33 176.89 L400.31 197.54 L402.29 219.06 L404.27 239.71 L406.25 257.81 L408.24 271.90 L410.22 280.84 L412.20 283.90 L414.15 281.58 L416.10 274.78 L418.05 263.97 L420.00 249.88 L421.95 233.46 L423.90 215.85 L425.85 198.24 L427.80 181.83 L429.75 167.73 L431.70 156.92 L433.65 150.12 L435.60 147.80 L437.53 149.99 L439.45 156.41 L441.38 166.63 L443.30 179.95 L445.23 195.46 L447.15 212.10 L449.07 228.74 L451.00 244.25 L452.93 257.57 L454.85 267.79 L456.77 274.21 L458.70 276.40 L460.54 274.29 L462.38 268.09 L464.23 258.23 L466.07 245.38 L467.91 230.41 L469.75 214.35 L471.59 198.29 L473.43 183.33 L475.27 170.47 L477.12 160.61 L478.96 154.41 L480.80 152.30 L482.73 154.44 L484.65 160.70 L486.57 170.66 L488.50 183.65 L490.43 198.77 L492.35 215.00 L494.27 231.23 L496.20 246.35 L498.12 259.34 L500.05 269.30 L501.97 275.56 L503.90 277.70 L505.82 275.67 L507.75 269.70 L509.67 260.21 L511.60 247.85 L513.52 233.45 L515.45 218.00 L517.38 202.55 L519.30 188.15 L521.23 175.79 L523.15 166.30 L525.08 160.33 L527.00 158.30 L528.83 160.35 L530.67 166.35 L532.50 175.89 L534.33 188.33 L536.17 202.81 L538.00 218.35 L539.83 233.89 L541.67 248.37 L543.50 260.81 L545.33 270.35 L547.17 276.35 L549.00 278.40 L550.84 276.78 L552.68 272.00 L554.52 264.34 L556.35 254.25 L558.19 242.32 L560.03 229.24 L561.87 215.76 L563.71 202.68 L565.55 190.75 L567.38 180.66 L569.22 173.00 L571.06 168.22 L572.90 166.60 L574.74 168.60 L576.58 174.46 L578.42 183.78 L580.27 195.93 L582.11 210.07 L583.95 225.25 L585.79 240.43 L587.63 254.57 L589.48 266.72 L591.32 276.04 L593.16 281.90 L595.00 283.90 L596.98 281.68 L598.96 275.18 L600.95 264.95 L602.93 251.81 L604.91 236.81 L606.89 221.19 L608.87 206.19 L610.85 193.05 L612.84 182.82 L614.82 176.32 L616.80 174.10 L618.75 175.65 L620.71 180.22 L622.66 187.53 L624.62 197.17 L626.57 208.56 L628.52 221.06 L630.48 233.94 L632.43 246.44 L634.38 257.83 L636.34 267.47 L638.29 274.78 L640.25 279.35 L642.20 280.90 L644.13 278.64 L646.05 272.03 L647.98 261.61 L649.91 248.22 L651.84 232.96 L653.76 217.04 L655.69 201.78 L657.62 188.39 L659.55 177.97 L661.47 171.36 L663.40 169.10 L665.35 171.26 L667.29 177.56 L669.24 187.50 L671.18 200.26 L673.13 214.81 L675.07 229.99 L677.02 244.54 L678.96 257.30 L680.91 267.24 L682.85 273.54 L684.80 275.70 L686.74 274.31 L688.68 270.20 L690.62 263.63 L692.55 254.97 L694.49 244.72 L696.43 233.49 L698.37 221.91 L700.31 210.68 L702.25 200.43 L704.18 191.77 L706.12 185.20 L708.06 181.09 L710.00 179.70 L711.82 181.82 L713.64 188.01 L715.45 197.77 L717.27 210.30 L719.09 224.60 L720.91 239.50 L722.73 253.80 L724.55 266.33 L726.36 276.09 L728.18 282.28 L730.00 284.40 L731.96 283.08 L733.92 279.20 L735.88 272.98 L737.85 264.79 L739.81 255.10 L741.77 244.47 L743.73 233.53 L745.69 222.90 L747.65 213.21 L749.62 205.02 L751.58 198.80 L753.54 194.92 L755.50 193.60 L757.38 195.52 L759.26 201.11 L761.15 209.93 L763.03 221.25 L764.91 234.17 L766.79 247.63 L768.67 260.55 L770.55 271.87 L772.44 280.69 L774.32 286.28 L776.20 288.20 L776.70 288.00 L777.20 287.45 L777.70 286.61 L778.20 285.54 L778.70 284.29 L779.20 282.92 L779.70 281.50 L780.20 279.67 L780.70 277.17 L781.20 274.17 L781.70 270.83 L782.20 267.33 L782.70 263.83 L783.20 260.49 L783.70 257.50 L784.20 254.82 L784.70 252.26 L785.20 249.69 L785.70 247.00 L786.20 244.16 L786.70 241.26 L787.20 238.43 L787.70 235.80 L788.20 233.35 L788.70 231.01 L789.20 228.78 L789.70 226.68 L790.20 224.74 L790.70 222.92 L791.20 221.21 L791.70 219.58 L792.20 218.01 L792.70 216.48 L793.20 214.96 L793.70 213.48 L794.20 212.12 L794.70 210.92 L795.20 209.90 L795.70 208.93 L796.20 208.01 L796.70 207.15 L797.20 206.35 L797.70 205.65 L798.20 205.05 L798.70 204.56 L799.20 204.18 L799.70 203.81 L800.20 203.46 L800.70 203.14 L801.20 202.85 L801.70 202.61 L802.20 202.41 L802.70 202.27 L803.20 202.21 L803.70 202.25 L804.20 202.52 L804.70 202.98 L805.20 203.60 L805.70 204.32 L806.20 205.10 L806.70 206.17 L807.20 207.68 L807.70 209.43 L808.20 211.24 L808.70 213.04 L809.20 214.95 L809.70 217.04 L810.20 219.40 L810.70 222.22 L811.20 225.36 L811.70 228.67 L812.20 232.20 L812.70 235.80 L813.20 239.37 L813.70 242.98 L814.20 246.65 L814.70 250.46 L815.20 254.51 L815.70 258.18 L816.20 261.38 L816.70 264.34 L817.20 267.16 L817.70 269.93 L818.20 272.74 L818.70 275.65 L819.20 278.56 L819.70 281.31 L820.20 283.75 L820.70 285.79 L821.20 287.84 L821.70 289.82 L822.20 291.54 L822.70 292.80 L823.20 293.38 L823.70 293.22 L824.20 292.54 L824.70 291.49 L825.20 290.21 L825.70 288.83 L826.20 287.44 L826.70 285.86 L827.20 284.03" stroke="#000000" stroke-width="1.55"/>
</g>
<path d="M252.20 354.00v-16.6 M252.20 3.35v16.6 M367.20 354.00v-8.2 M367.20 3.35v8.2 M482.20 354.00v-16.6 M482.20 3.35v16.6 M597.20 354.00v-8.2 M597.20 3.35v8.2 M712.20 354.00v-16.6 M712.20 3.35v16.6 M137.20 343.32h8.3 M827.20 343.32h-8.3 M137.20 288.48h16.5 M827.20 288.48h-16.5 M137.20 233.64h8.3 M827.20 233.64h-8.3 M137.20 178.80h16.5 M827.20 178.80h-16.5 M137.20 123.96h8.3 M827.20 123.96h-8.3 M137.20 69.12h16.5 M827.20 69.12h-16.5 M137.20 14.28h8.3 M827.20 14.28h-8.3" fill="none" stroke="#000" stroke-width="1.5"/>
<rect x="137.20" y="3.35" width="690.00" height="350.65" fill="none" stroke="#000" stroke-width="1.75" stroke-linejoin="round"/>
<g font-size="47" fill="#000" stroke="#000" stroke-width="0.3">
<text transform="translate(132.6 85.32) scale(1 1.03)" text-anchor="end">0.01</text>
<text transform="translate(130.3 195.00) scale(1 1.03)" text-anchor="end">0</text>
<text transform="translate(132.6 304.68) scale(1 1.03)" text-anchor="end">0.01</text>
<text x="36.7" y="304.38">-</text>
<text transform="translate(252.80 395.0) scale(1 1.03)" text-anchor="middle">3950</text>
<text transform="translate(482.80 395.0) scale(1 1.03)" text-anchor="middle">4000</text>
<text transform="translate(712.80 395.0) scale(1 1.03)" text-anchor="middle">4050</text>
</g>
<g font-size="47" fill="#000" stroke="#000" stroke-width="0.3">
<text y="435.8"><tspan x="400.6">(</tspan><tspan x="414.15">t</tspan><tspan x="428.0" dy="18.4" font-size="33.4">s</tspan><tspan x="442.0" dy="-18.4">-</tspan><tspan x="455.4">r</tspan><tspan x="469.4" dy="3.2" font-size="49">*</tspan><tspan x="495.7" dy="-3.2">)</tspan><tspan x="510.4">/</tspan><tspan x="522.6">M</tspan></text>
</g>
<g font-size="47" fill="#000" stroke="#000" stroke-width="0.2">
<text transform="translate(34.7 293.1) rotate(-90) scale(0.98 1.0)">Δ</text>
<text transform="translate(35.7 265.0) rotate(-90) scale(0.991 0.985)">ϕ (radians)</text>
</g>
<g font-size="35" stroke-width="0.05">
<text x="180.5" y="43.8" fill="#ff0000" stroke="#ff0000" font-size="35.6">n=2</text>
<text x="564.8" y="54.6" fill="#0000ff" stroke="#0000ff" font-size="35.4">n=4</text>
<text x="170.3" y="286.0" fill="#000" stroke="#000">n=1</text>
<text x="175.7" y="341.0" fill="#008b00" stroke="#008b00" font-size="34.5">n=3</text>
</g>
<path d="M231.20 55.40L233.20 102.80 M228.83 94.37L233.20 102.80 M236.85 94.03L233.20 102.80" fill="none" stroke="#ff0000" stroke-width="1.5" stroke-linecap="butt"/>
<path d="M558.20 57.40L533.30 66.40 M540.39 59.34L533.30 66.40 M543.26 67.29L533.30 66.40" fill="none" stroke="#0000ff" stroke-width="1.5" stroke-linecap="butt"/>
<path d="M204.30 255.40L235.90 147.00 M237.42 156.88L235.90 147.00 M229.31 154.52L235.90 147.00" fill="none" stroke="#000000" stroke-width="1.5" stroke-linecap="butt"/>
<path d="M237.50 325.90L264.60 296.50 M261.56 306.03L264.60 296.50 M255.35 300.30L264.60 296.50" fill="none" stroke="#008b00" stroke-width="1.5" stroke-linecap="butt"/>
</svg></body></html>
